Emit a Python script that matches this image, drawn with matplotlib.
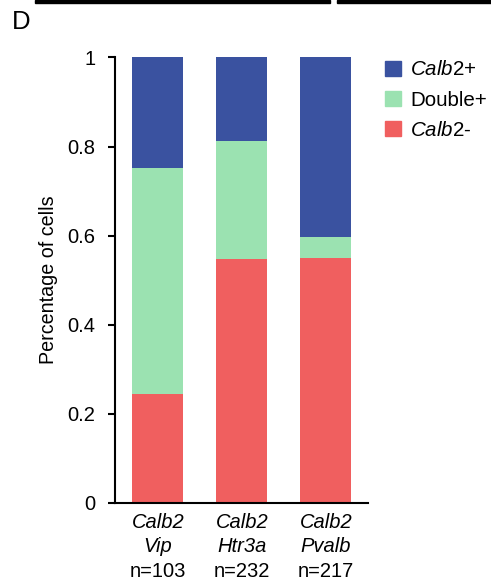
import matplotlib
matplotlib.use("Agg")
import matplotlib.pyplot as plt
from matplotlib.patches import Patch, Rectangle
import numpy as np

plt.rcParams['font.family'] = ['Liberation Sans', 'DejaVu Sans']
plt.rcParams['mathtext.fontset'] = 'custom'
plt.rcParams['mathtext.it'] = 'Liberation Sans:italic'
plt.rcParams['mathtext.rm'] = 'Liberation Sans'

# Data
genes = ["Calb2", "Calb2", "Calb2"]
groups = ["Vip", "Htr3a", "Pvalb"]
counts = ["n=103", "n=232", "n=217"]
calb2_neg = [0.244, 0.547, 0.550]
double_pos = [0.507, 0.266, 0.046]
calb2_pos = [0.249, 0.187, 0.404]
yticks = [0, 0.2, 0.4, 0.6, 0.8, 1]
ytick_labels = ["0", "0.2", "0.4", "0.6", "0.8", "1"]

c_blue = "#3A52A0"
c_green = "#9BE2B1"
c_red = "#F05F5F"

FS = 14.5

fig = plt.figure(figsize=(4.91, 5.86), dpi=100)
ax = fig.add_axes([0.2342, 0.1422, 0.5153, 0.7597])

x = np.arange(len(groups))
w = 0.607
neg = np.array(calb2_neg)
dbl = np.array(double_pos)
pos = np.array(calb2_pos)
ax.bar(x, neg, w, color=c_red, linewidth=0)
ax.bar(x, dbl, w, bottom=neg, color=c_green, linewidth=0)
ax.bar(x, pos, w, bottom=neg + dbl, color=c_blue, linewidth=0)

ax.set_xlim(-0.51, 2.50)
ax.set_ylim(0, 1)
ax.set_yticks(yticks)
ax.set_yticklabels(ytick_labels, fontsize=FS)
ax.set_xticks([])
for s in ["top", "right"]:
    ax.spines[s].set_visible(False)
for s in ["left", "bottom"]:
    ax.spines[s].set_linewidth(1.5)
ax.tick_params(axis='y', direction='out', length=5, width=1.5, pad=9)
ax.set_ylabel("Percentage of cells", fontsize=14.2, labelpad=7)

for i in range(len(groups)):
    ax.text(x[i], -0.0568, genes[i], ha='center', va='baseline', fontsize=FS,
            style='italic')
    ax.text(x[i], -0.1119, groups[i], ha='center', va='baseline', fontsize=FS,
            style='italic')
    ax.text(x[i], -0.1669, counts[i], ha='center', va='baseline', fontsize=FS)

handles = [Patch(color=c_blue), Patch(color=c_green), Patch(color=c_red)]
labels = [r"$\mathit{Calb2}$+", "Double+", r"$\mathit{Calb2}$-"]
fig.legend(handles, labels, loc='upper left', bbox_to_anchor=(0.785, 0.897),
           frameon=False, fontsize=14.8, handlelength=0.75, handleheight=0.75,
           handletextpad=0.45, labelspacing=0.55, borderaxespad=0, borderpad=0)

fig.text(0.025, 0.962, "D", fontsize=18.5, ha='left', va='center')

# top strip from cropped panel above
fig.patches.append(Rectangle((0.071, 0.995), 0.601, 0.005, transform=fig.transFigure,
                             color='black'))
fig.patches.append(Rectangle((0.686, 0.995), 0.314, 0.005, transform=fig.transFigure,
                             color='black'))

fig.savefig("out.png", dpi=100)
